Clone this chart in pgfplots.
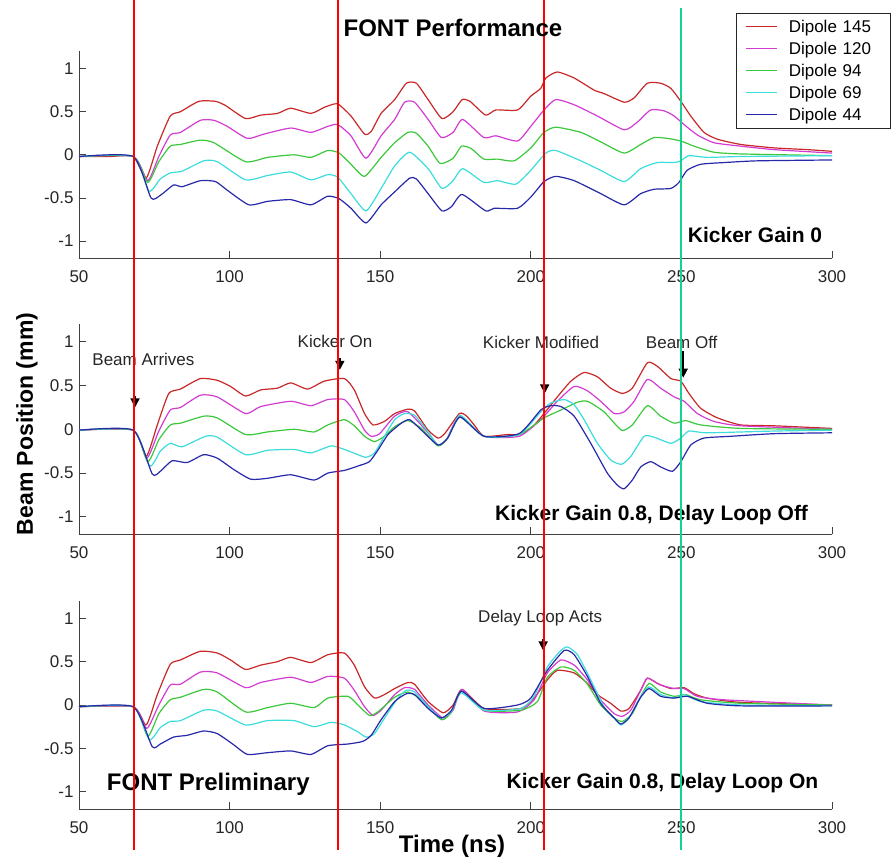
\documentclass[border=0pt]{standalone}
\usepackage{fontspec}
\setmainfont{Liberation Sans}
\usepackage{pgfplots}
\pgfplotsset{compat=1.18}
\usetikzlibrary{arrows.meta}

\definecolor{dA}{RGB}{200,40,40}
\definecolor{dB}{RGB}{210,60,210}
\definecolor{dC}{RGB}{60,200,60}
\definecolor{dD}{RGB}{60,220,220}
\definecolor{dE}{RGB}{40,40,170}
\definecolor{vred}{RGB}{255,0,0}
\definecolor{vgreen}{RGB}{20,210,150}

\tikzset{
  ann/.style={font=\fontsize{17}{20}\selectfont, text=black!85},
  big/.style={font=\fontsize{21}{24}\selectfont\bfseries},
  evt/.style={line width=1.6pt, -{Triangle[width=9pt,length=9pt]}},
}
\pgfplotsset{
  panel/.style={
    scale only axis, width=753pt, height=207pt,
    xmin=50, xmax=300, ymin=-1.2, ymax=1.2,
    axis x line*=bottom, axis y line*=left,
    xtick={50,100,...,300}, ytick={-1,-0.5,0,0.5,1},
    tick align=inside, major tick length=7pt,
    axis line style={black!75, line width=0.8pt},
    tick style={black!75, line width=0.8pt},
    ticklabel style={font=\fontsize{17}{20}\selectfont, text=black!85},
    xticklabel style={yshift=-9pt},
    yticklabel style={xshift=-2pt},
    /pgf/number format/assume math mode=true,
    clip=false,
    every axis plot/.append style={line width=1.2pt, smooth, tension=0.35},
  },
}

\begin{document}
\begin{tikzpicture}
\path[use as bounding box] (0pt,0pt) rectangle (891pt,860pt);

% ---- top panel: Kicker Gain 0
\begin{axis}[panel, at={(79pt,601.7pt)}, anchor=south west,
  legend style={at={(1.077,1.184)}, anchor=north east, draw=black!85,
    font=\fontsize{17}{20}\selectfont, inner xsep=9pt, inner ysep=2.5pt, row sep=0pt,
    nodes={inner sep=0pt, text width=92pt, text height=16.9pt, text depth=5pt},
    /tikz/every odd column/.append style={column sep=11pt}},
  legend cell align=left,
  legend image code/.code={\draw[#1, line width=1.2pt] (0pt,0pt) -- (31pt,0pt);},
]
\addplot[dA] coordinates {(50,-0.02)(60,-0.02)(68,-0.02)(72.3,-0.27)(76,0.1)(80.3,0.45)(83.7,0.50)(89.8,0.62)(95.3,0.62)(98.7,0.57)(105.3,0.42)(110.3,0.46)(115.9,0.48)(120.3,0.54)(127,0.48)(131.4,0.55)(134.8,0.59)(136.4,0.58)(140.3,0.45)(144.8,0.24)(147,0.27)(150.3,0.48)(154.8,0.64)(158.7,0.83)(162,0.83)(165.9,0.64)(170.5,0.42)(174.2,0.50)(177.2,0.64)(179.8,0.62)(185,0.46)(188.4,0.52)(195.6,0.52)(200,0.68)(203.3,0.77)(205,0.89)(208.8,0.96)(214.4,0.89)(221,0.75)(224.3,0.71)(231,0.61)(234.3,0.66)(238.7,0.83)(243.1,0.83)(246.5,0.77)(249.8,0.62)(253.1,0.45)(257.5,0.26)(262,0.18)(269.7,0.12)(280.8,0.08)(291.8,0.06)(300,0.04)};
\addplot[dB] coordinates {(50,-0.02)(68,-0.02)(72.8,-0.30)(76.5,-0.02)(80.3,0.23)(83.7,0.26)(90.3,0.40)(94.8,0.40)(99.2,0.33)(105.9,0.19)(111.4,0.24)(120.3,0.31)(127,0.26)(132.6,0.33)(135.9,0.35)(140.3,0.22)(145.3,-0.04)(150.3,0.22)(154.8,0.41)(158.1,0.61)(161.4,0.61)(165.9,0.41)(170.3,0.20)(174.2,0.26)(177.4,0.41)(184.4,0.20)(188.4,0.22)(195.6,0.16)(200,0.33)(204.4,0.52)(208.3,0.64)(214.4,0.58)(222.1,0.45)(231,0.29)(235.4,0.38)(239.8,0.52)(244.2,0.51)(247.6,0.45)(250.9,0.35)(255.3,0.23)(260.8,0.14)(269.7,0.10)(280.8,0.06)(300,0.02)};
\addplot[dC] coordinates {(50,-0.02)(68,-0.02)(72.8,-0.32)(76.5,-0.08)(80.3,0.10)(83.7,0.12)(90.3,0.17)(94.8,0.14)(105.3,-0.08)(112.6,-0.03)(121.4,0.00)(127,-0.03)(132.6,0.05)(136.4,0.02)(140.3,-0.11)(144.8,-0.25)(150.3,-0.03)(154.8,0.14)(159.2,0.26)(162,0.25)(165.9,0.10)(169.9,-0.10)(174.2,-0.04)(177,0.10)(180.3,0.07)(184.4,-0.05)(188.9,-0.05)(194.5,-0.07)(200,0.08)(204.4,0.26)(208.3,0.32)(216.6,0.26)(223.2,0.15)(231,0.02)(236.5,0.12)(240.9,0.20)(245.4,0.19)(249.8,0.16)(254.2,0.10)(260.8,0.03)(269.7,0.01)(300,-0.01)};
\addplot[dD] coordinates {(50,-0.02)(68,-0.02)(73.2,-0.42)(77,-0.28)(80.3,-0.21)(84.2,-0.19)(91.4,-0.07)(95.9,-0.08)(105.3,-0.29)(112.6,-0.24)(120.3,-0.20)(127,-0.29)(132.6,-0.23)(135.9,-0.26)(140.3,-0.45)(145.3,-0.65)(150.3,-0.39)(154.8,-0.13)(159.8,0.03)(165.9,-0.16)(170.5,-0.39)(174.2,-0.30)(177.4,-0.16)(184.4,-0.32)(188.9,-0.30)(195,-0.34)(200,-0.18)(205,0.02)(208.3,0.05)(216.6,-0.07)(223.2,-0.18)(231,-0.31)(236.5,-0.16)(242,-0.09)(247.6,-0.09)(249.8,-0.07)(252.5,-0.01)(258.6,-0.03)(269.7,-0.02)(300,-0.01)};
\addplot[dE] coordinates {(50,-0.02)(68,-0.02)(73.9,-0.50)(77,-0.47)(81.4,-0.35)(84.2,-0.37)(90.3,-0.30)(95.3,-0.31)(99.2,-0.41)(106.4,-0.58)(112.6,-0.54)(120.3,-0.52)(127,-0.58)(132.6,-0.48)(136.4,-0.51)(140.3,-0.62)(145.3,-0.79)(150.3,-0.58)(154.8,-0.43)(159.8,-0.27)(162,-0.28)(165.9,-0.45)(170.5,-0.65)(173.7,-0.60)(177.2,-0.46)(185,-0.65)(187.8,-0.62)(195.6,-0.62)(200,-0.49)(204.4,-0.31)(208.3,-0.25)(214.4,-0.30)(223.2,-0.45)(231,-0.58)(236.5,-0.45)(240.9,-0.40)(246.5,-0.39)(249.2,-0.32)(251.9,-0.18)(256.4,-0.11)(264.2,-0.09)(275.2,-0.07)(300,-0.06)};
\legend{Dipole 145, Dipole 120, Dipole 94, Dipole 69, Dipole 44}
\node[big, anchor=east] at (axis cs:297.9,-0.93) {Kicker Gain 0};
\end{axis}

% ---- middle panel: Kicker Gain 0.8, Delay Loop Off
\begin{axis}[panel, height=210pt, at={(79pt,325.7pt)}, anchor=south west]
\addplot[dA] coordinates {(50,-0.01)(68,-0.01)(72.3,-0.31)(76,0.05)(79.8,0.41)(83.7,0.46)(90.3,0.58)(95.9,0.56)(100.3,0.49)(105.3,0.38)(110.3,0.45)(115.9,0.47)(120.3,0.53)(125.9,0.46)(131.4,0.55)(138.1,0.58)(141.4,0.45)(144.8,0.18)(147.6,0.05)(151.4,0.09)(154.8,0.18)(159.2,0.23)(161.4,0.21)(165.9,-0.01)(169.2,-0.10)(171.4,-0.05)(176.3,0.18)(178.7,0.15)(181.2,0.05)(184.5,-0.08)(192.3,-0.06)(196.1,-0.06)(200.6,0.03)(204.4,0.18)(208.8,0.37)(213.3,0.55)(217.7,0.65)(222.1,0.60)(226.5,0.47)(230.4,0.41)(233.7,0.47)(238.7,0.76)(242,0.72)(246.5,0.58)(249.8,0.55)(252.5,0.41)(256.4,0.24)(262,0.13)(269.7,0.05)(280.8,0.04)(300,0.01)};
\addplot[dB] coordinates {(50,-0.01)(68,-0.01)(72.5,-0.33)(76.5,-0.02)(80.3,0.22)(83.7,0.25)(90.3,0.39)(95.9,0.37)(105.3,0.18)(110.3,0.26)(120.3,0.32)(127,0.27)(132.6,0.34)(138.1,0.34)(141.4,0.20)(144.8,-0.01)(147,-0.08)(149.8,-0.05)(154.8,0.15)(159.2,0.20)(165.9,-0.04)(169.2,-0.18)(172,-0.12)(176.3,0.15)(184.5,-0.08)(196.1,-0.08)(203.3,0.11)(208.8,0.32)(214.4,0.49)(218.8,0.44)(223.2,0.32)(227.7,0.18)(231,0.20)(234.3,0.32)(238.7,0.57)(243.1,0.47)(247.6,0.37)(250.9,0.32)(255.3,0.18)(260.8,0.09)(269.7,0.04)(300,0.00)};
\addplot[dC] coordinates {(50,-0.01)(68,-0.01)(72.8,-0.37)(76.5,-0.12)(80.3,0.05)(83.7,0.07)(91.4,0.15)(95.9,0.13)(105.3,-0.06)(112.6,-0.03)(121.4,0.00)(128.1,-0.03)(132.6,0.05)(138.1,0.11)(141.4,0.04)(144.8,-0.08)(148.1,-0.14)(151.4,-0.08)(154.8,0.03)(159.2,0.10)(163.7,0.01)(169.2,-0.19)(172.4,-0.10)(176.5,0.14)(184.5,-0.08)(196.1,-0.06)(204.4,0.13)(210,0.22)(215.5,0.31)(218.8,0.32)(224.3,0.20)(230.1,-0.01)(233.7,0.05)(238.7,0.27)(243.1,0.15)(247.6,0.07)(251.4,0.10)(256.4,0.05)(269.7,0.01)(300,0.00)};
\addplot[dD] coordinates {(50,-0.01)(68,-0.01)(73.5,-0.42)(77,-0.25)(80.3,-0.16)(84.2,-0.20)(92,-0.08)(95.9,-0.09)(105.3,-0.29)(112.6,-0.24)(121.4,-0.23)(127,-0.27)(133.7,-0.19)(138.1,-0.23)(142.6,-0.29)(145.3,-0.32)(148.1,-0.27)(151.4,-0.08)(154.8,0.11)(158.1,0.18)(161.4,0.16)(165.9,-0.03)(169.2,-0.18)(172.4,-0.10)(176.5,0.16)(184.5,-0.08)(196.1,-0.06)(203.3,0.20)(206.6,0.30)(211.1,0.34)(214.4,0.28)(217.7,0.11)(222.1,-0.16)(226.5,-0.35)(230.1,-0.40)(233.2,-0.31)(237.6,-0.08)(240.9,-0.09)(246.5,-0.16)(249.8,-0.10)(252.5,-0.02)(258.6,-0.04)(280.8,-0.02)(300,-0.01)};
\addplot[dE] coordinates {(50,-0.01)(68,-0.01)(74.3,-0.51)(77,-0.48)(80.9,-0.36)(85.9,-0.38)(91.4,-0.29)(95.9,-0.33)(101.4,-0.46)(107,-0.57)(112.6,-0.56)(120.3,-0.52)(128.1,-0.58)(132.6,-0.50)(138.1,-0.47)(142.6,-0.42)(146.4,-0.37)(149.2,-0.24)(152.6,-0.06)(157,0.07)(159.8,0.11)(163.7,-0.01)(169.2,-0.18)(172.4,-0.10)(176.5,0.14)(184.5,-0.08)(196.1,-0.05)(203.3,0.22)(206.6,0.27)(210,0.26)(214.4,0.15)(219.9,-0.16)(225.4,-0.50)(228.8,-0.64)(231,-0.68)(233.7,-0.58)(236.5,-0.43)(239.8,-0.37)(243.1,-0.43)(247,-0.48)(249.8,-0.37)(253.1,-0.18)(257.5,-0.10)(266.4,-0.08)(280.8,-0.05)(300,-0.04)};
\node[ann] at (axis cs:71.4,0.80) {Beam Arrives};
\node[ann] at (axis cs:135.0,1.00) {Kicker On};
\node[ann] at (axis cs:203.4,0.99) {Kicker Modified};
\node[ann] at (axis cs:250.1,0.99) {Beam Off};
\draw[evt] (axis cs:68.6,0.38) -- (axis cs:68.6,0.25);
\draw[evt] (axis cs:136.6,0.81) -- (axis cs:136.6,0.68);
\draw[evt] (axis cs:204.6,0.83) -- (axis cs:204.6,0.41);
\draw[evt] (axis cs:250.6,0.90) -- (axis cs:250.6,0.59);
\node[big, anchor=east] at (axis cs:293.2,-0.98) {Kicker Gain 0.8, Delay Loop Off};
\end{axis}

% ---- bottom panel: Kicker Gain 0.8, Delay Loop On
\begin{axis}[panel, height=208pt, at={(79pt,51pt)}, anchor=south west]
\addplot[dA] coordinates {(50,-0.02)(68,-0.02)(72.3,-0.23)(76,0.12)(80.3,0.47)(83.7,0.52)(90.3,0.62)(95.9,0.60)(100.3,0.52)(105.3,0.41)(110.3,0.46)(115.9,0.50)(120.3,0.55)(127,0.49)(132.6,0.58)(138.1,0.60)(141.4,0.46)(144.8,0.21)(148.1,0.08)(151.4,0.12)(154.8,0.19)(159.2,0.26)(161.4,0.24)(165.9,0.04)(170.9,-0.09)(174.2,0.00)(177.2,0.18)(184.5,-0.04)(196.7,-0.04)(201.1,0.08)(205.5,0.29)(208.8,0.40)(214.4,0.37)(218.8,0.25)(222.1,0.12)(226.5,0.02)(229.9,-0.07)(232.6,-0.04)(236.5,0.17)(238.7,0.31)(242,0.25)(246.5,0.19)(250.9,0.20)(254.2,0.13)(258.6,0.08)(269.7,0.03)(300,0.00)};
\addplot[dB] coordinates {(50,-0.02)(68,-0.02)(72.5,-0.27)(76.5,0.0)(80.3,0.23)(83.7,0.24)(90.3,0.38)(95.9,0.37)(105.3,0.20)(110.3,0.26)(120.3,0.32)(127,0.26)(132.6,0.33)(138.1,0.31)(141.4,0.17)(144.8,-0.02)(147.6,-0.12)(150.3,-0.06)(154.8,0.12)(158.1,0.20)(161.4,0.18)(165.9,0.00)(170.9,-0.15)(174.2,-0.06)(177.2,0.18)(184.5,-0.07)(195.6,-0.08)(201.1,0.06)(205.5,0.37)(210,0.52)(214.4,0.46)(218.8,0.29)(223.2,0.06)(227.7,-0.10)(230.4,-0.13)(233.2,-0.06)(236.5,0.17)(238.7,0.31)(243.1,0.23)(247.6,0.19)(250.9,0.19)(255.3,0.10)(264.1,0.06)(300,0.00)};
\addplot[dC] coordinates {(50,-0.02)(68,-0.02)(72.8,-0.36)(76.5,-0.10)(80.3,0.06)(83.7,0.09)(91.4,0.18)(95.9,0.15)(105.3,-0.08)(112.6,-0.03)(120.3,0.02)(128.1,-0.03)(132.6,0.08)(139.3,0.10)(142.6,0.00)(146.4,-0.12)(149.2,-0.08)(154.8,0.09)(159.2,0.15)(163.7,0.06)(170.3,-0.17)(173.7,-0.08)(177,0.16)(184.5,-0.06)(196.7,-0.06)(202.2,0.04)(205.5,0.32)(210,0.44)(214.4,0.40)(218.8,0.24)(223.2,0.00)(227.7,-0.15)(230.4,-0.19)(233.7,-0.10)(236.5,0.10)(239.3,0.25)(243.1,0.15)(247.6,0.10)(251.4,0.12)(256.4,0.06)(269.7,0.02)(300,0.00)};
\addplot[dD] coordinates {(50,-0.02)(68,-0.02)(73.3,-0.40)(77,-0.26)(80.3,-0.19)(83.7,-0.18)(91.4,-0.06)(95.9,-0.07)(105.3,-0.23)(112.6,-0.18)(121.4,-0.18)(128.1,-0.25)(133.7,-0.20)(138.1,-0.23)(142.6,-0.31)(145.3,-0.37)(148.1,-0.33)(152,-0.12)(155.9,0.08)(158.7,0.17)(161.4,0.15)(165.9,-0.02)(170.3,-0.15)(173.7,-0.07)(177,0.14)(184.5,-0.06)(196.7,-0.04)(201.1,0.10)(205.5,0.44)(210,0.63)(212.2,0.67)(215.5,0.58)(219.9,0.29)(224.3,-0.02)(227.7,-0.15)(229.9,-0.23)(232.6,-0.15)(236.5,0.10)(239.3,0.21)(243.1,0.12)(247.6,0.08)(250.9,0.12)(256.4,0.04)(269.7,0.00)(300,-0.01)};
\addplot[dE] coordinates {(50,-0.02)(68,-0.02)(74.3,-0.48)(77,-0.45)(81.4,-0.37)(85.9,-0.35)(91.4,-0.30)(95.9,-0.33)(101.4,-0.46)(105.9,-0.57)(112.6,-0.55)(120.3,-0.53)(127,-0.57)(132.6,-0.47)(139.3,-0.45)(144.2,-0.42)(147,-0.35)(150.3,-0.17)(154.8,0.04)(158.7,0.13)(161.4,0.12)(165.9,-0.04)(170.3,-0.15)(173.7,-0.06)(177,0.16)(184.5,-0.04)(195.6,0.00)(200,0.08)(205.5,0.40)(211.1,0.63)(214.4,0.58)(218.8,0.33)(223.2,0.02)(227.7,-0.15)(229.9,-0.22)(232.6,-0.15)(236.5,0.09)(239.3,0.19)(243.1,0.10)(247.6,0.08)(252,0.10)(258.6,0.02)(269.7,-0.01)(300,-0.01)};
\node[ann] at (axis cs:203.1,1.00) {Delay Loop Acts};
\draw[evt] (axis cs:204.1,0.76) -- (axis cs:204.1,0.63);
\node[big, anchor=east] at (axis cs:296.6,-0.90) {Kicker Gain 0.8, Delay Loop On};
\node[font=\fontsize{24}{27}\selectfont\bfseries, anchor=west] at (axis cs:58.1,-0.92) {FONT Preliminary};
\end{axis}

% ---- event markers spanning all panels
\begin{axis}[scale only axis, width=753pt, height=860pt, at={(79pt,0pt)}, anchor=south west,
  xmin=50, xmax=300, ymin=0, ymax=860, hide axis, clip=false]
\addplot[vred, line width=1.8pt] coordinates {(68.3,10)(68.3,860)};
\addplot[vred, line width=1.8pt] coordinates {(135.9,10)(135.9,860)};
\addplot[vred, line width=1.8pt] coordinates {(204.3,10)(204.3,860)};
\addplot[vgreen, line width=1.8pt] coordinates {(249.8,10)(249.8,852)};
\end{axis}

\node[font=\fontsize{24}{27}\selectfont\bfseries] at (453pt,832pt) {FONT Performance};
\node[font=\fontsize{23}{26}\selectfont\bfseries, rotate=90] at (27pt,436pt) {Beam Position (mm)};
\node[font=\fontsize{24}{27}\selectfont\bfseries] at (452pt,14pt) {Time (ns)};
\end{tikzpicture}
\end{document}
